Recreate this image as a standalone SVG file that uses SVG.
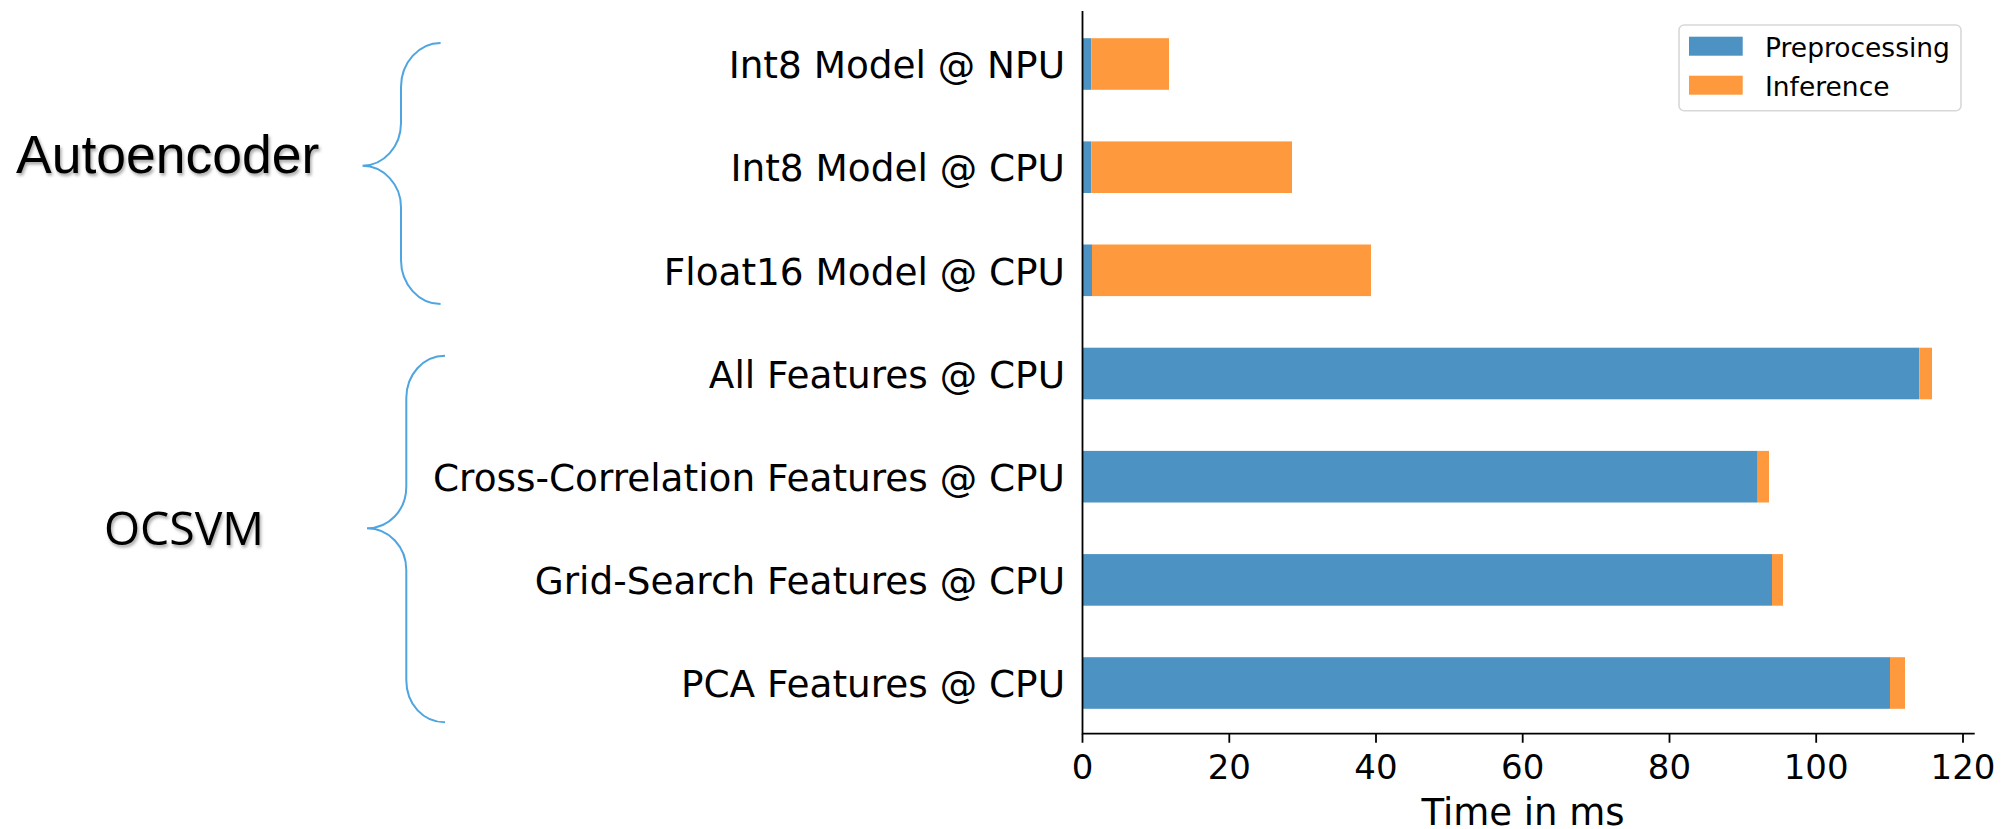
<svg xmlns="http://www.w3.org/2000/svg" width="2001" height="829" viewBox="0 0 2001 829">
<style>
.pre{fill:#4C92C3}
.inf{fill:#FF993E}
.ylab{font-family:"DejaVu Sans",sans-serif;font-size:37.4px;fill:#000;text-anchor:end}
.tick{font-family:"DejaVu Sans",sans-serif;font-size:34px;fill:#000;text-anchor:middle}
.axis{stroke:#000;stroke-width:1.8;fill:none}
.brace{stroke:#4EA5E0;stroke-width:2;fill:none}
.leg{font-family:"DejaVu Sans",sans-serif;font-size:26.5px;fill:#000}
</style>
<defs>
<filter id="sh" x="-10%" y="-20%" width="130%" height="150%">
<feDropShadow dx="1.5" dy="2.5" stdDeviation="1.5" flood-color="#000" flood-opacity="0.35"/>
</filter>
</defs>
<rect width="2001" height="829" fill="#fff"/>

<g id="group-autoencoder">
<path class="brace" d="M440.6,43 C418.8,43 401,62.8 401,87 L401,123 C401,146.5 383.7,165.7 362.5,165.7 C383.7,165.7 401,184.9 401,207 L401,260 C401,284.2 418.8,304 440.6,304"/>
<text x="16" y="173" font-family="'Liberation Sans',Arial,sans-serif" font-size="53.5" filter="url(#sh)">Autoencoder</text>
</g>
<g id="group-ocsvm">
<path class="brace" d="M445,355.7 C423,355.7 406.3,375 406.3,398 L406.3,486.7 C406.3,510 389,528.3 367,528.3 C389,528.3 406.3,547 406.3,570 L406.3,680 C406.3,704 423,722.3 445,722.3"/>
<text x="104" y="545" font-family="'Open Sans',sans-serif" font-size="46" textLength="160" lengthAdjust="spacingAndGlyphs" filter="url(#sh)">OCSVM</text>
</g>

<g id="bar-int8-npu">
<rect class="pre" x="1082.5" y="38.2" width="8.8" height="51.6"/>
<rect class="inf" x="1091.3" y="38.2" width="77.7" height="51.6"/>
<text class="ylab" x="1065" y="78.2">Int8 Model @ NPU</text>
</g>
<g id="bar-int8-cpu">
<rect class="pre" x="1082.5" y="141.4" width="8.8" height="51.6"/>
<rect class="inf" x="1091.3" y="141.4" width="200.7" height="51.6"/>
<text class="ylab" x="1065" y="181.4">Int8 Model @ CPU</text>
</g>
<g id="bar-float16-cpu">
<rect class="pre" x="1082.5" y="244.5" width="9.5" height="51.6"/>
<rect class="inf" x="1092" y="244.5" width="279" height="51.6"/>
<text class="ylab" x="1065" y="284.5">Float16 Model @ CPU</text>
</g>
<g id="bar-all-features">
<rect class="pre" x="1082.5" y="347.7" width="836.8" height="51.6"/>
<rect class="inf" x="1919.3" y="347.7" width="12.7" height="51.6"/>
<text class="ylab" x="1065" y="387.7">All Features @ CPU</text>
</g>
<g id="bar-cross-correlation">
<rect class="pre" x="1082.5" y="450.9" width="675.2" height="51.6"/>
<rect class="inf" x="1757.7" y="450.9" width="11.3" height="51.6"/>
<text class="ylab" x="1065" y="490.9">Cross-Correlation Features @ CPU</text>
</g>
<g id="bar-grid-search">
<rect class="pre" x="1082.5" y="554.1" width="689.5" height="51.6"/>
<rect class="inf" x="1772" y="554.1" width="11" height="51.6"/>
<text class="ylab" x="1065" y="594.1">Grid-Search Features @ CPU</text>
</g>
<g id="bar-pca">
<rect class="pre" x="1082.5" y="657.2" width="807.5" height="51.6"/>
<rect class="inf" x="1890" y="657.2" width="15" height="51.6"/>
<text class="ylab" x="1065" y="697.2">PCA Features @ CPU</text>
</g>

<g id="axes">
<path class="axis" d="M1082.5,11 V733.7 H1974.7"/>
<path class="axis" d="M1082.5,733.7 v9 M1229.3,733.7 v9 M1376,733.7 v9 M1522.7,733.7 v9 M1669.5,733.7 v9 M1816.2,733.7 v9 M1963,733.7 v9"/>
<text class="tick" x="1082.5" y="779">0</text>
<text class="tick" x="1229.3" y="779">20</text>
<text class="tick" x="1376" y="779">40</text>
<text class="tick" x="1522.7" y="779">60</text>
<text class="tick" x="1669.5" y="779">80</text>
<text class="tick" x="1816.2" y="779">100</text>
<text class="tick" x="1963" y="779">120</text>
<text x="1523" y="825" font-family="'DejaVu Sans',sans-serif" font-size="37" text-anchor="middle">Time in ms</text>
</g>

<g id="legend">
<rect x="1679" y="25" width="282" height="85.7" rx="5" fill="#fff" stroke="#d8d8d8" stroke-width="1.6"/>
<rect class="pre" x="1689" y="36.7" width="53.7" height="19"/>
<rect class="inf" x="1689" y="75.7" width="53.7" height="19"/>
<text class="leg" x="1765" y="56.5">Preprocessing</text>
<text class="leg" x="1765" y="95.5">Inference</text>
</g>
</svg>
